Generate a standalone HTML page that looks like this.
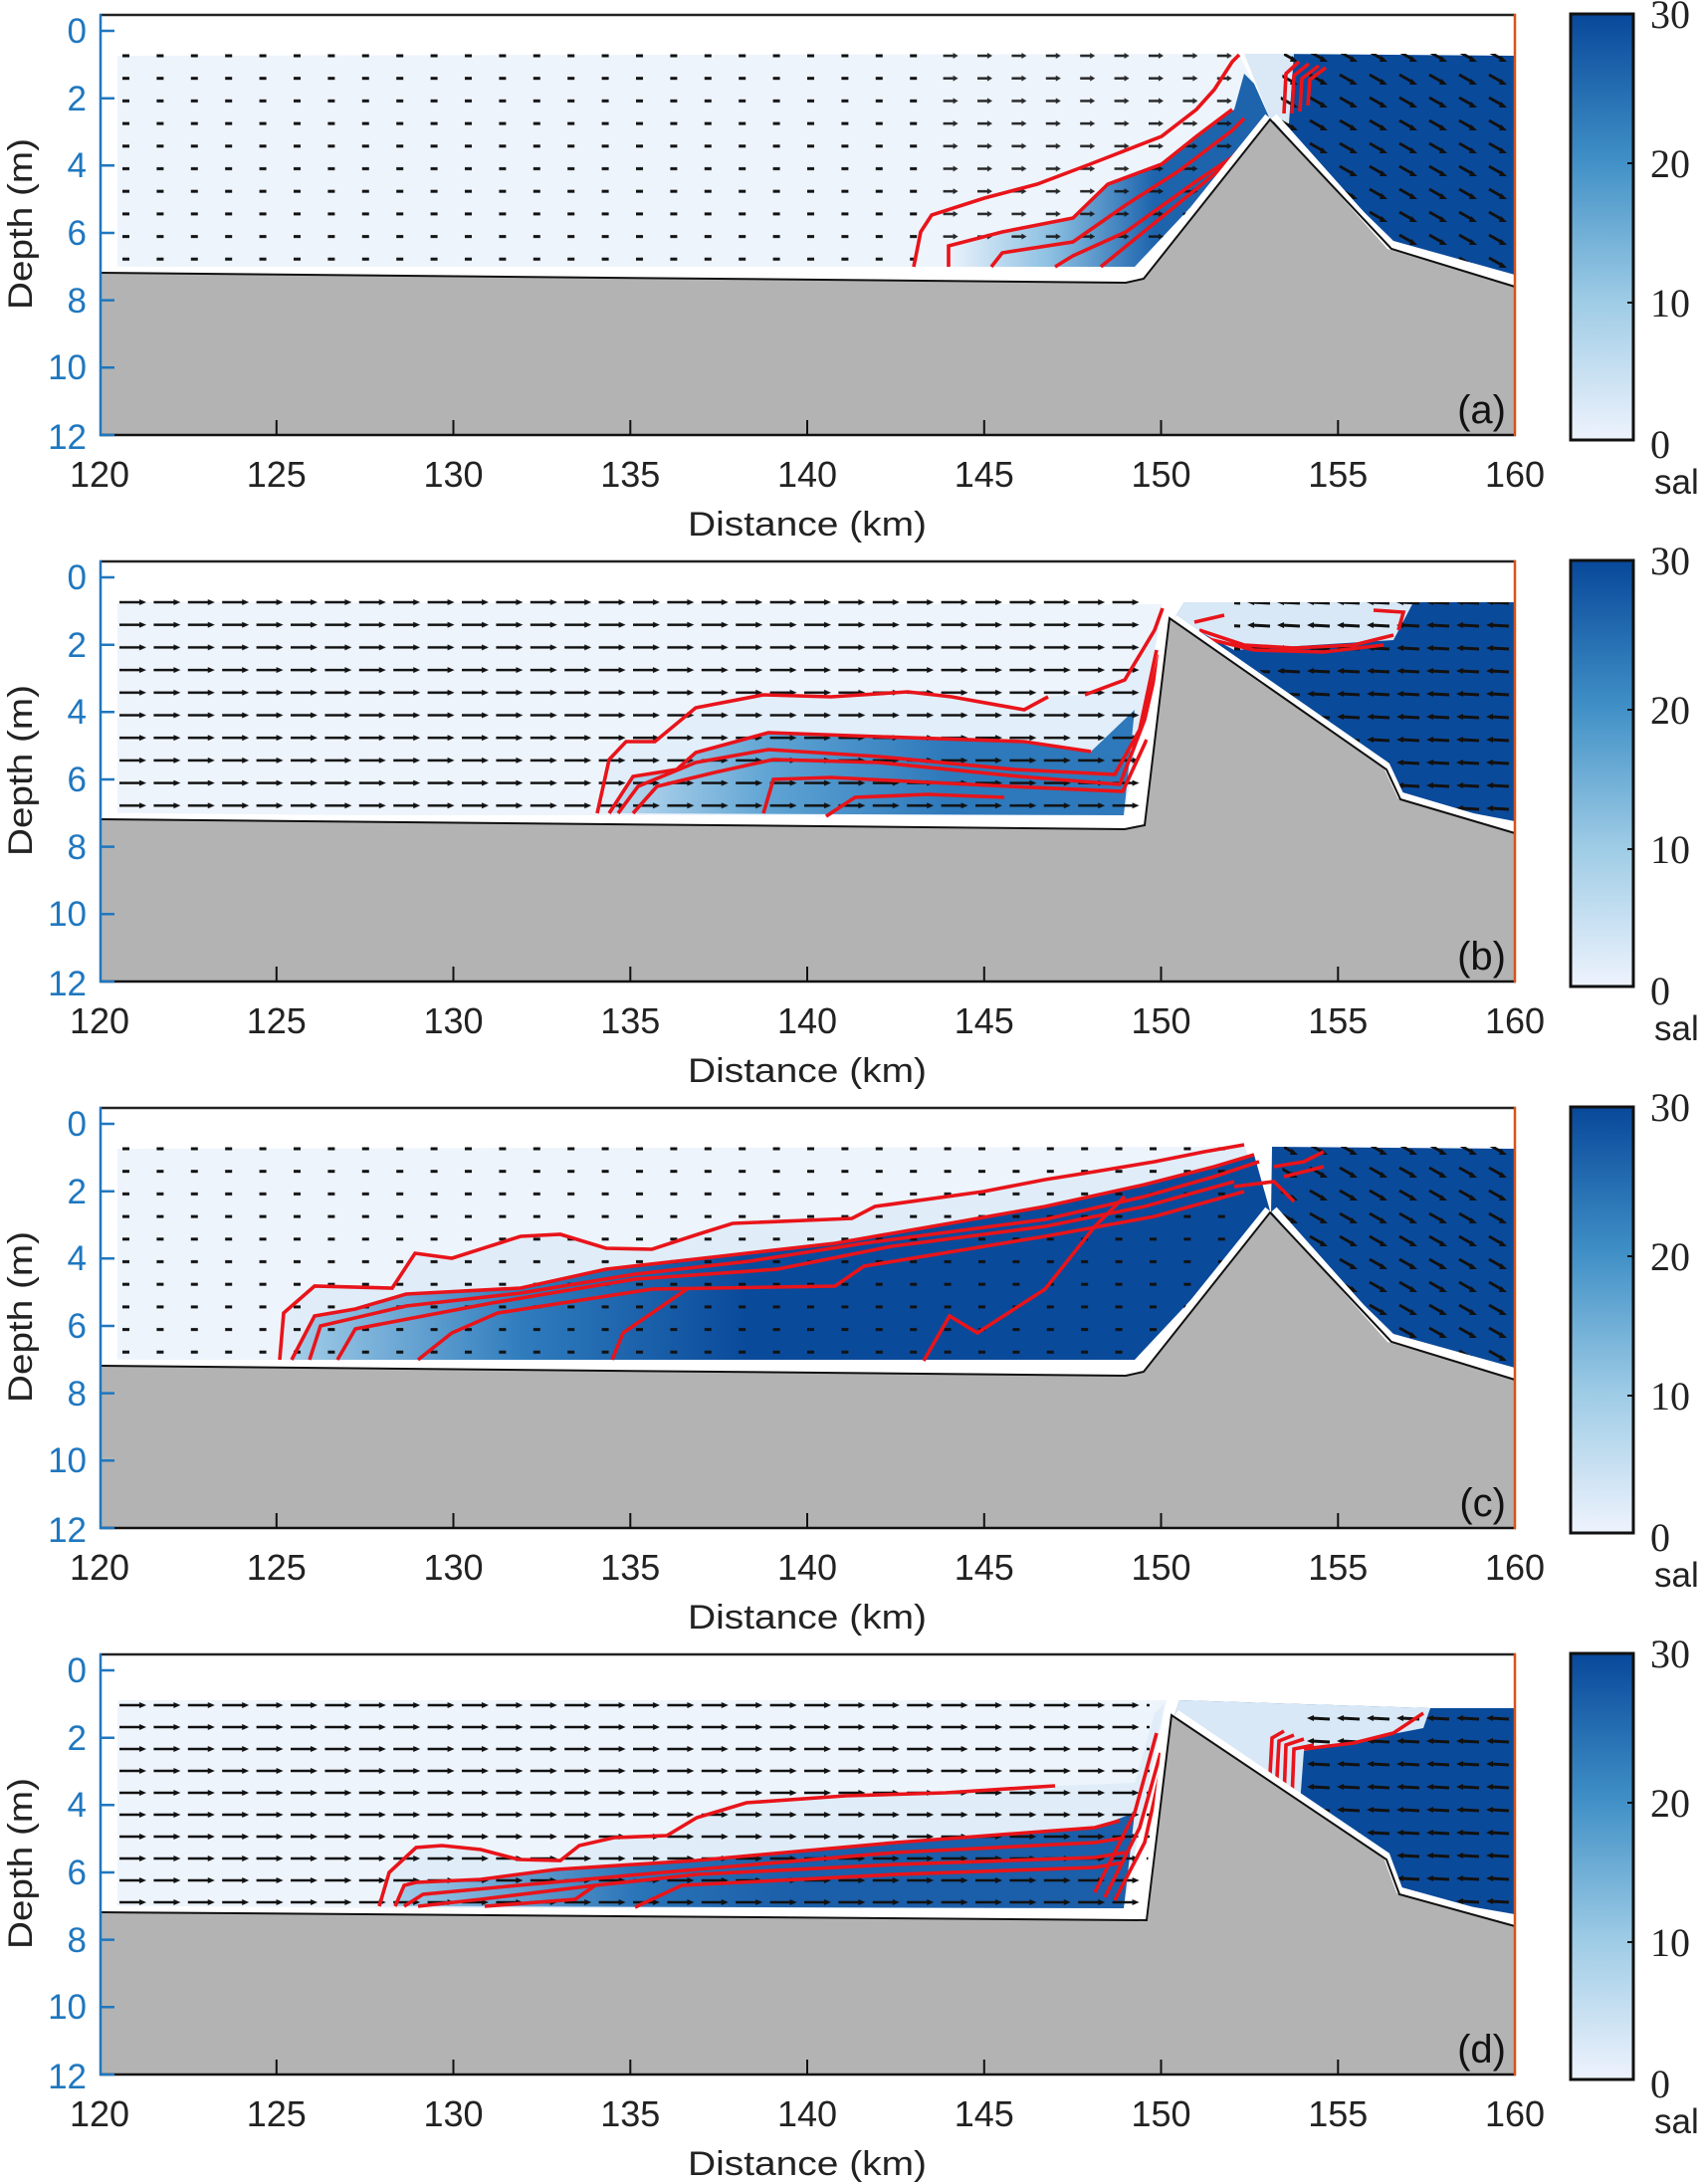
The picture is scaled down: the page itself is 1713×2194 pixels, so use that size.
<!DOCTYPE html>
<html><head><meta charset="utf-8"><style>
html,body{margin:0;padding:0;background:#fff}
svg{display:block}
text{font-family:"Liberation Sans",sans-serif}
text.serif{font-family:"Liberation Serif",serif}
</style></head><body>
<svg width="1713" height="2194" viewBox="0 0 1713 2194" xmlns="http://www.w3.org/2000/svg">
<defs>
 <linearGradient id="cbar" x1="0" y1="1" x2="0" y2="0">
  <stop offset="0" stop-color="#eef3fd"/><stop offset="0.33" stop-color="#9dcbe5"/>
  <stop offset="0.66" stop-color="#3f8fc6"/><stop offset="1" stop-color="#08489a"/>
 </linearGradient>
 <linearGradient id="gA" x1="850" y1="0" x2="1060" y2="0" gradientUnits="userSpaceOnUse">
  <stop offset="0" stop-color="#eef4fc"/><stop offset="0.5" stop-color="#8cc0e2"/><stop offset="1" stop-color="#1d64ad"/>
 </linearGradient>
 <linearGradient id="gB" x1="500" y1="0" x2="850" y2="0" gradientUnits="userSpaceOnUse">
  <stop offset="0" stop-color="#c6e0f2"/><stop offset="0.5" stop-color="#5ea3d3"/><stop offset="1" stop-color="#2e79bb"/>
 </linearGradient>
 <linearGradient id="gC" x1="200" y1="0" x2="650" y2="0" gradientUnits="userSpaceOnUse">
  <stop offset="0" stop-color="#9fcbe7"/><stop offset="0.5" stop-color="#2f7cbd"/><stop offset="1" stop-color="#0a4a9b"/>
 </linearGradient>
 <linearGradient id="gD" x1="300" y1="0" x2="700" y2="0" gradientUnits="userSpaceOnUse">
  <stop offset="0" stop-color="#9fcbe7"/><stop offset="0.6" stop-color="#2a74b8"/><stop offset="1" stop-color="#1b5ea9"/>
 </linearGradient>
 <pattern id="pa" x="20" y="31" width="34.4" height="22.7" patternUnits="userSpaceOnUse">
  <path d="M3,11 L10,11" stroke="#111" stroke-width="3"/>
 </pattern>
 <pattern id="pc" x="20" y="31" width="34.4" height="22.7" patternUnits="userSpaceOnUse">
  <path d="M2,11 L12,11" stroke="#111" stroke-width="2.5"/><path d="M12,8 L17,11 L12,14Z" fill="#111"/>
 </pattern>
 <pattern id="pb" x="20" y="31" width="34.4" height="22.7" patternUnits="userSpaceOnUse">
  <path d="M0,11 L22,11" stroke="#111" stroke-width="2.5"/><path d="M20,8 L27,11 L20,14Z" fill="#111"/>
 </pattern>
 <pattern id="pd" x="20" y="41" width="34.4" height="22" patternUnits="userSpaceOnUse">
  <path d="M0,11 L22,11" stroke="#111" stroke-width="2.5"/><path d="M20,8 L27,11 L20,14Z" fill="#111"/>
 </pattern>
 <pattern id="pr1" x="1180" y="31" width="30" height="23" patternUnits="userSpaceOnUse">
  <path d="M6,7 L20,15" stroke="#111" stroke-width="3"/><path d="M18,11 L24,17 L16,17Z" fill="#111"/>
 </pattern>
 <pattern id="pr2" x="1180" y="31" width="30" height="23" patternUnits="userSpaceOnUse">
  <path d="M8,11 L26,12" stroke="#111" stroke-width="3"/><path d="M10,8 L3,11 L10,14Z" fill="#111"/>
 </pattern>
 <g id="axes">
  <line x1="0" y1="1" x2="1423" y2="1" stroke="#222" stroke-width="2.5"/>
  <line x1="0" y1="423" x2="1423" y2="423" stroke="#111" stroke-width="2.5"/>
  <line x1="1" y1="0" x2="1" y2="424" stroke="#1f77bf" stroke-width="2.5"/>
  <line x1="1422" y1="0" x2="1422" y2="424" stroke="#d95319" stroke-width="2.5"/>
  <path d="M177.8,423v-15M355.5,423v-15M533.3,423v-15M711,423v-15M888.8,423v-15M1066.5,423v-15M1244.3,423v-15" stroke="#111" stroke-width="2"/>
  <path d="M1,17h14M1,84.7h14M1,152.3h14M1,220h14M1,287.6h14M1,355.3h14M1,423h14" stroke="#1f77bf" stroke-width="2.5"/>
  <g fill="#1f77bf" font-size="35" text-anchor="end">
   <text x="-13" y="29">0</text><text x="-13" y="97">2</text><text x="-13" y="164">4</text>
   <text x="-13" y="232">6</text><text x="-13" y="300">8</text><text x="-13" y="367">10</text><text x="-13" y="437">12</text>
  </g>
  <g fill="#222" font-size="36" text-anchor="middle">
   <text x="0" y="475">120</text><text x="177.8" y="475">125</text><text x="355.5" y="475">130</text>
   <text x="533.3" y="475">135</text><text x="711" y="475">140</text><text x="888.8" y="475">145</text>
   <text x="1066.5" y="475">150</text><text x="1244.3" y="475">155</text><text x="1422" y="475">160</text>
  </g>
  <text x="711" y="524" font-size="34" text-anchor="middle" fill="#222" textLength="240" lengthAdjust="spacingAndGlyphs">Distance (km)</text>
  <text transform="translate(-68,211) rotate(-90)" font-size="34" text-anchor="middle" fill="#222" textLength="172" lengthAdjust="spacingAndGlyphs">Depth (m)</text>
  <rect x="1478" y="0" width="63" height="428" fill="url(#cbar)" stroke="#111" stroke-width="3"/>
  <path d="M1541,150h-6M1541,290h-6" stroke="#111" stroke-width="2"/>
  <g font-size="40" fill="#222">
   <text class="serif" x="1558" y="14">30</text><text class="serif" x="1558" y="164">20</text><text class="serif" x="1558" y="304">10</text><text class="serif" x="1558" y="446">0</text>
  </g>
  <text x="1562" y="482" font-size="35" fill="#222">sal</text>
 </g>
</defs>

<!-- Panel a -->
<g transform="translate(100,14)">
 <path d="M18,42 L1145,40 L1177,108 L1040,254 L18,254Z" fill="#eef4fc"/>
 <path d="M853,254 L853,233 907,219 978,205 1013,171 1067,151 1102,123 1140,96 1150,60 1160,70 1177,108 1040,254Z" fill="url(#gA)"/>
 <path d="M1178,40 L1422,42 L1422,262 L1300,228 L1177,108Z" fill="#0a4a9b"/>
 <path d="M1150,40 L1200,40 L1195,110 L1177,108Z" fill="#dbe9f7"/>
 <rect x="15" y="31" width="830" height="228" fill="url(#pa)"/>
 <rect x="845" y="31" width="300" height="200" fill="url(#pc)" opacity="0.9"/>
 <path d="M1190,40 L1422,40 L1422,262 L1300,228 L1185,110Z" fill="url(#pr1)"/>
 <g fill="none" stroke="#e8141a" stroke-width="3.6">
  <path d="M818,254 L825,219 836,202 889,185 942,171 995,151 1067,123 1102,96 1120,76 1138,48 1145,41"/>
  <path d="M853,254 L853,233 907,219 978,205 1013,171 1067,151 1102,123 1138,96"/>
  <path d="M896,254 L907,240 978,229 1031,192 1084,158 1138,117 1150,105"/>
  <path d="M960,254 L978,243 1031,219 1102,168 1138,144 1160,120"/>
  <path d="M1006,254 L1049,219 1120,161 1149,137"/>
  <path d="M1190,100 L1192,60 1205,48 M1198,100 L1200,62 1215,50 M1206,98 L1208,65 1225,52 M1214,92 L1216,66 1232,54"/>
 </g>
 <path d="M0,260 L1031,270 L1049,266 L1176,106 L1298,236 L1422,274 L1422,424 L0,424Z" fill="#b3b3b3"/>
 <path d="M0,257 L1031,267 L1046,262 L1174,103 M1180,103 L1296,233 L1422,270" fill="none" stroke="#fff" stroke-width="7"/>
 <path d="M0,260 L1031,270 L1049,266 L1176,106 L1298,236 L1422,274" fill="none" stroke="#111" stroke-width="2"/>
 <text x="1413" y="411" font-size="40" text-anchor="end" fill="#111">(a)</text>
 <use href="#axes"/>
</g>

<!-- Panel b -->
<g transform="translate(100,563)">
 <path d="M18,42 L1068,44 L1029,256 L18,256Z" fill="#eef4fc"/>
 <path d="M500,254 L512,200 529,182 558,182 599,148 667,135 735,137 812,132 856,137 929,150 953,137 990,135 1030,120 1060,70 1068,48 L1029,256Z" fill="#e2eef9"/>
 <path d="M512,254 L536,217 580,210 599,193 672,173 783,177 929,182 996,192 1040,150 L1029,256Z" fill="url(#gB)"/>
 <path d="M1090,42 L1422,42 L1422,262 L1307,240 L1293,210 L1080,58Z" fill="#0a4a9b"/>
 <path d="M1090,42 L1320,42 L1300,80 L1140,90 L1080,58Z" fill="#d8e8f6"/>
 <rect x="15" y="31" width="1030" height="228" fill="url(#pb)"/>
 <path d="M1140,42 L1422,42 L1422,262 L1307,240 L1293,210 L1140,90Z" fill="url(#pr2)"/>
 <g fill="none" stroke="#e8141a" stroke-width="3.6">
  <path d="M500,254 L512,200 529,182 558,182 599,148 667,135 735,137 812,132 856,137 929,150 953,137"/>
  <path d="M990,135 L1030,120 1060,70 1068,48"/>
  <path d="M512,254 L536,217 580,210 599,193 672,173 783,177 929,182 996,192"/>
  <path d="M521,254 L541,227 599,203 672,190 783,197 919,210 1020,215 1045,170 1062,90"/>
  <path d="M536,254 L560,227 618,213 677,200 783,203 924,217 1025,225 1050,160 1065,95"/>
  <path d="M667,254 L677,220 735,218 914,227 1028,232 1052,180"/>
  <path d="M730,257 L759,238 832,235 909,238"/>
  <path d="M1105,70 L1150,85 1200,88 1260,85 1300,75 M1110,78 L1160,90 1230,92 1290,85 M1100,62 L1130,55 M1280,50 L1310,52 1305,70"/>
 </g>
 <path d="M0,260 L1030,270 L1050,266 L1075,58 L1293,210 L1307,240 L1422,274 L1422,424 L0,424Z" fill="#b3b3b3"/>
 <path d="M0,257 L1028,267 L1046,262 L1072,60 M1080,58 L1293,206 L1307,236 L1422,270" fill="none" stroke="#fff" stroke-width="7"/>
 <path d="M0,260 L1030,270 L1050,266 L1075,58 L1293,210 L1307,240 L1422,274" fill="none" stroke="#111" stroke-width="2"/>
 <text x="1413" y="411" font-size="40" text-anchor="end" fill="#111">(b)</text>
 <use href="#axes"/>
</g>

<!-- Panel c -->
<g transform="translate(100,1112)">
 <path d="M18,42 L1145,40 L1177,108 L1040,254 L18,254Z" fill="#eef4fc"/>
 <path d="M181,254 L185,207 216,180 294,182 317,147 354,152 423,130 463,128 509,142 555,143 601,128 636,117 756,112 779,100 888,85 950,73 1000,65 1060,55 1110,45 1150,38 L1177,108 L1040,254Z" fill="#e0edf8"/>
 <path d="M193,254 L216,210 257,203 308,188 423,182 509,163 624,150 739,137 854,117 950,100 1050,78 1120,60 1160,48 L1177,108 L1040,254Z" fill="url(#gC)"/>
 <path d="M1178,40 L1422,42 L1422,262 L1300,228 L1177,108Z" fill="#0a4a9b"/>
 <rect x="15" y="31" width="1140" height="228" fill="url(#pa)"/>
 <path d="M1190,40 L1422,40 L1422,262 L1300,228 L1185,110Z" fill="url(#pr1)"/>
 <g fill="none" stroke="#e8141a" stroke-width="3.6">
  <path d="M181,254 L185,207 216,180 294,182 317,147 354,152 423,130 463,128 509,142 555,143 601,128 636,117 756,112 779,100 888,85 950,73 1000,65 1060,55 1110,45 1150,38"/>
  <path d="M193,254 L216,210 257,203 308,188 423,182 509,163 624,150 739,137 854,117 950,100 1050,78 1120,60 1160,48"/>
  <path d="M211,254 L222,220 308,200 423,187 538,168 653,155 768,137 950,113 1050,90 1120,70 1165,55"/>
  <path d="M239,254 L257,223 394,197 538,173 681,163 796,140 950,120 1050,100 1140,75"/>
  <path d="M320,254 L354,227 400,207 555,183 739,180 768,160 950,130 1060,110 1150,85"/>
  <path d="M515,254 L526,227 561,203 590,183"/>
  <path d="M828,255 L854,210 882,227 950,183 1000,120 1030,90"/>
  <path d="M1180,60 L1210,55 1230,45 M1190,70 L1230,60 M1140,80 L1180,75 1200,95"/>
 </g>
 <path d="M0,260 L1031,270 L1049,266 L1176,106 L1298,236 L1422,274 L1422,424 L0,424Z" fill="#b3b3b3"/>
 <path d="M0,257 L1031,267 L1046,262 L1174,103 M1180,103 L1296,233 L1422,270" fill="none" stroke="#fff" stroke-width="7"/>
 <path d="M0,260 L1031,270 L1049,266 L1176,106 L1298,236 L1422,274" fill="none" stroke="#111" stroke-width="2"/>
 <text x="1413" y="411" font-size="40" text-anchor="end" fill="#111">(c)</text>
 <use href="#axes"/>
</g>

<!-- Panel d -->
<g transform="translate(100,1661)">
 <path d="M18,47 L1072,47 L1029,256 L18,256Z" fill="#eef4fc"/>
 <path d="M281,254 L291,220 318,195 344,193 383,197 421,207 463,208 482,193 517,185 570,183 600,165 650,150 750,143 850,140 960,133 1040,130 1060,60 1070,50 L1029,256Z" fill="#e0edf8"/>
 <path d="M297,254 L306,233 318,230 383,227 459,217 600,208 800,190 1000,175 1040,160 L1029,256Z" fill="url(#gD)"/>
 <path d="M1085,47 L1337,55 L1422,55 L1422,262 L1306,242 L1293,207 L1080,62Z" fill="#0a4a9b"/>
 <path d="M1085,47 L1337,55 L1330,75 L1210,98 L1206,152 L1080,62Z" fill="#d8e8f6"/>
 <rect x="15" y="41" width="1040" height="220" fill="url(#pd)"/>
 <path d="M1210,55 L1422,55 L1422,262 L1306,242 L1293,207 L1210,152Z" fill="url(#pr2)"/>
 <g fill="none" stroke="#e8141a" stroke-width="3.6">
  <path d="M281,254 L291,220 318,195 344,193 383,197 421,207 463,208 482,193 517,185 570,183 600,165 650,150 750,143 850,140 960,133"/>
  <path d="M297,254 L306,233 318,230 383,227 459,217 600,208 800,190 1000,175 1025,168"/>
  <path d="M306,254 L325,242 421,233 600,217 800,200 1000,190 1030,185"/>
  <path d="M320,254 L383,247 498,233 600,222 800,212 1000,205 1030,200"/>
  <path d="M387,254 L478,247 498,233"/>
  <path d="M538,255 L585,233 800,222 1000,215 1028,210"/>
  <path d="M1000,240 L1040,160 1062,80 M1010,245 L1045,175 1066,100 M1020,248 L1050,190 1068,110"/>
  <path d="M1175,140 L1178,85 1190,78 M1182,142 L1185,88 1200,82 M1190,145 L1192,92 1210,86 M1198,148 L1200,96 1220,92 M1210,96 L1260,90 1300,80 1330,60"/>
 </g>
 <path d="M0,260 L1052,268 L1077,62 L1293,207 L1306,242 L1422,274 L1422,424 L0,424Z" fill="#b3b3b3"/>
 <path d="M0,257 L1050,265 L1074,62 M1082,60 L1293,203 L1306,238 L1422,270" fill="none" stroke="#fff" stroke-width="7"/>
 <path d="M0,260 L1052,268 L1077,62 L1293,207 L1306,242 L1422,274" fill="none" stroke="#111" stroke-width="2"/>
 <text x="1413" y="411" font-size="40" text-anchor="end" fill="#111">(d)</text>
 <use href="#axes"/>
</g>
</svg>
</body></html>
